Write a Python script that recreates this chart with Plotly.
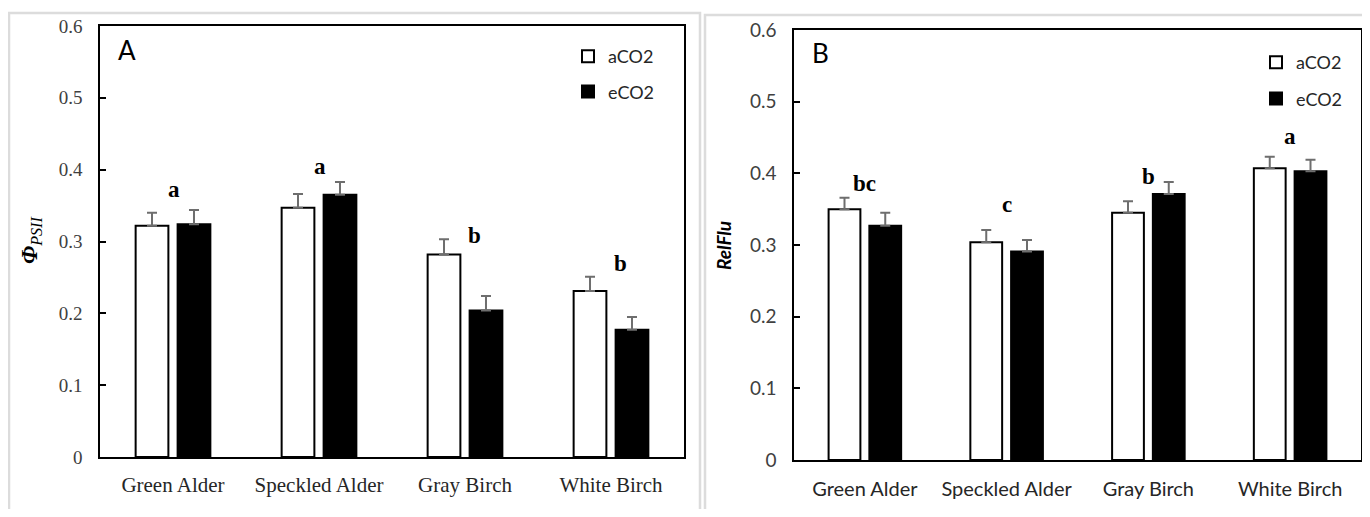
import plotly.graph_objects as go

# page is 1370x517; browser body has an 8px default margin
OFF = 8
W, H = 1370 - 2 * OFF, 517 - 2 * OFF

categories = ["Green Alder", "Speckled Alder", "Gray Birch", "White Birch"]

# Panel A: PhiPSII
A_aCO2 = [0.322, 0.347, 0.282, 0.231]
A_aCO2_err = [0.018, 0.019, 0.021, 0.020]
A_eCO2 = [0.324, 0.365, 0.204, 0.177]
A_eCO2_err = [0.020, 0.018, 0.020, 0.018]
A_letters = ["a", "a", "b", "b"]
A_letter_y = [0.373, 0.404, 0.309, 0.269]

# Panel B: RelFlu
B_aCO2 = [0.350, 0.304, 0.345, 0.407]
B_aCO2_err = [0.016, 0.017, 0.016, 0.016]
B_eCO2 = [0.327, 0.291, 0.371, 0.403]
B_eCO2_err = [0.018, 0.016, 0.017, 0.016]
B_letters = ["bc", "c", "b", "a"]
B_letter_y = [0.386, 0.356, 0.395, 0.452]

y_ticks = [0, 0.1, 0.2, 0.3, 0.4, 0.5, 0.6]
y_ticklabels = ["0", "0.1", "0.2", "0.3", "0.4", "0.5", "0.6"]

SERIF = "Liberation Serif"
SANS = "Lato"
ERRC = "#6e6e6e"


def px_x(p):
    return (p - OFF) / W


def px_y(p):
    return 1 - (p - OFF) / H


fig = go.Figure()


def add_panel(xa, ya, legend, a_vals, a_err, e_vals, e_err):
    fig.add_trace(go.Bar(
        x=categories, y=a_vals, name="aCO2", xaxis=xa, yaxis=ya,
        legend=legend, legendgroup=legend + "a",
        marker=dict(color="white", line=dict(color="black", width=2)),
        error_y=dict(type="data", array=a_err, arrayminus=[0] * len(a_err),
                     symmetric=False, color=ERRC, thickness=2, width=5),
    ))
    fig.add_trace(go.Bar(
        x=categories, y=e_vals, name="eCO2", xaxis=xa, yaxis=ya,
        legend=legend, legendgroup=legend + "e",
        marker=dict(color="black", line=dict(color="black", width=2)),
        error_y=dict(type="data", array=e_err, arrayminus=[0] * len(e_err),
                     symmetric=False, color=ERRC, thickness=2, width=5),
    ))


add_panel("x", "y", "legend", A_aCO2, A_aCO2_err, A_eCO2, A_eCO2_err)
add_panel("x2", "y2", "legend2", B_aCO2, B_aCO2_err, B_eCO2, B_eCO2_err)

annotations = []
# significance letters
for i, (c, t, yv) in enumerate(zip(categories, A_letters, A_letter_y)):
    annotations.append(dict(x=c, y=yv, xref="x", yref="y", text="<b>%s</b>" % t,
                            showarrow=False, xshift=(9 if i >= 2 else 1),
                            font=dict(family=SERIF, size=23, color="black")))
for c, t, yv in zip(categories, B_letters, B_letter_y):
    annotations.append(dict(x=c, y=yv, xref="x2", yref="y2", text="<b>%s</b>" % t,
                            showarrow=False,
                            font=dict(family=SERIF, size=23, color="black")))
# panel labels
annotations.append(dict(x=px_x(116), y=px_y(50), xref="paper", yref="paper", text="A",
                        showarrow=False, xanchor="left", yanchor="middle",
                        font=dict(family=SANS, size=26, color="black")))
annotations.append(dict(x=px_x(810), y=px_y(53), xref="paper", yref="paper", text="B",
                        showarrow=False, xanchor="left", yanchor="middle",
                        font=dict(family=SANS, size=26, color="black")))
# y-axis titles
annotations.append(dict(x=px_x(31), y=px_y(241), xref="paper", yref="paper",
                        text="<b><i>Φ</i></b><sub><i>PSII</i></sub>", textangle=-90,
                        showarrow=False, xanchor="center", yanchor="middle",
                        font=dict(family=SERIF, size=23, color="black")))
annotations.append(dict(x=px_x(723), y=px_y(246), xref="paper", yref="paper",
                        text="<b><i>RelFlu</i></b>", textangle=-90,
                        showarrow=False, xanchor="center", yanchor="middle",
                        font=dict(family=SANS, size=19, color="black")))

shapes = [
    dict(type="rect", xref="paper", yref="paper", x0=px_x(9), x1=px_x(700),
         y0=px_y(540), y1=px_y(13), line=dict(color="#dcdcdc", width=2.5)),
    dict(type="rect", xref="paper", yref="paper", x0=px_x(705), x1=px_x(1390),
         y0=px_y(540), y1=px_y(15), line=dict(color="#dcdcdc", width=2.5)),
]


def xaxis(domain, font, size, standoff):
    return dict(domain=domain, showline=True, linecolor="black", linewidth=1.5,
                mirror=True, ticks="", showgrid=False, zeroline=False,
                automargin=False, ticklabelstandoff=standoff,
                tickfont=dict(family=font, size=size, color="#262626"),
                fixedrange=True)


def yaxis(domain, anchor, font, size):
    return dict(domain=domain, anchor=anchor, range=[0, 0.6], tickvals=y_ticks,
                ticktext=y_ticklabels, showline=True, linecolor="black",
                linewidth=1.5, mirror=True, ticks="inside", ticklen=6,
                tickcolor="black", tickwidth=1.5, showgrid=False, zeroline=False,
                ticklabelstandoff=12, automargin=False,
                tickfont=dict(family=font, size=size, color="#404040"))


fig.update_layout(
    width=W, height=H, margin=dict(l=0, r=0, t=0, b=0, autoexpand=False),
    paper_bgcolor="white", plot_bgcolor="white",
    barmode="group", bargap=0.425, bargroupgap=0.22,
    xaxis=dict(xaxis([px_x(100), px_x(684)], SERIF, 21, 8), anchor="y"),
    yaxis=yaxis([px_y(457), px_y(26)], "x", SERIF, 19),
    xaxis2=dict(xaxis([px_x(794), px_x(1361)], SANS, 20, 10), anchor="y2"),
    yaxis2=yaxis([px_y(460), px_y(30)], "x2", SANS, 19),
    legend=dict(x=px_x(568), y=px_y(38), xanchor="left", yanchor="top",
                bgcolor="rgba(0,0,0,0)", tracegroupgap=9, itemwidth=30,
                font=dict(family=SANS, size=18, color="#262626")),
    legend2=dict(x=px_x(1256), y=px_y(44), xanchor="left", yanchor="top",
                 bgcolor="rgba(0,0,0,0)", tracegroupgap=10, itemwidth=30,
                 font=dict(family=SANS, size=18, color="#262626")),
    annotations=annotations, shapes=shapes, showlegend=True,
)

fig.write_html("out.html")
